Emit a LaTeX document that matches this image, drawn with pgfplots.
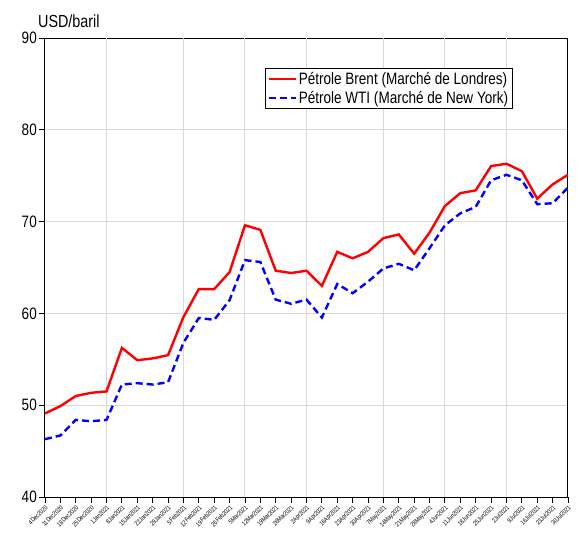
\documentclass[border=0pt]{standalone}
\usepackage{pgfplots}
\pgfplotsset{compat=1.18}
\usepackage{fontspec}
\setmainfont{Liberation Sans}[FakeStretch=0.82]
\pgfplotstableread{
x y
0 49.1
1 49.9
2 51.0
3 51.35
4 51.5
5 56.25
6 54.9
7 55.1
8 55.45
9 59.6
10 62.65
11 62.65
12 64.5
13 69.6
14 69.1
15 64.65
16 64.4
17 64.65
18 63.0
19 66.7
20 66.0
21 66.7
22 68.2
23 68.6
24 66.5
25 68.8
26 71.7
27 73.1
28 73.4
29 76.05
30 76.3
31 75.5
32 72.5
33 74.05
34 75.1
}\brent
\pgfplotstableread{
x y
0 46.3
1 46.7
2 48.4
3 48.25
4 48.4
5 52.25
6 52.4
7 52.25
8 52.5
9 56.8
10 59.5
11 59.3
12 61.45
13 65.8
14 65.6
15 61.5
16 61.05
17 61.5
18 59.55
19 63.2
20 62.2
21 63.45
22 64.9
23 65.4
24 64.7
25 67.1
26 69.6
27 70.9
28 71.6
29 74.5
30 75.1
31 74.5
32 71.9
33 72.0
34 73.7
}\wti
\begin{document}
\begin{tikzpicture}
\begin{axis}[
  at={(0pt,0pt)}, anchor=south west,
  scale only axis, width=523pt, height=459pt,
  xmin=0, xmax=34, ymin=40, ymax=90,
  xtick={0,...,34},
  xticklabels={4Dec2020,11Dec2020,18Dec2020,25Dec2020,1Jan2021,8Jan2021,15Jan2021,22Jan2021,29Jan2021,5Feb2021,12Feb2021,19Feb2021,26Feb2021,5Mar2021,12Mar2021,19Mar2021,26Mar2021,2Apr2021,9Apr2021,16Apr2021,23Apr2021,30Apr2021,7May2021,14May2021,21May2021,28May2021,4Jun2021,11Jun2021,18Jun2021,25Jun2021,2Jul2021,9Jul2021,16Jul2021,23Jul2021,30Jul2021},
  x tick label style={rotate=45, anchor=north east, font=\fontsize{6.5}{7.5}\selectfont, inner sep=1pt},
  ytick={40,50,...,90},
  y tick label style={font=\fontsize{16.5}{18}\selectfont, inner sep=2pt},
  /pgf/number format/assume math mode=true,
  tick align=outside, xtick pos=bottom, ytick pos=left,
  major tick length=6pt,
  tick style={black, line width=0.9pt},
  axis line style={black, line width=1pt},
  ymajorgrids, major grid style={black!15, line width=1pt},
  extra x ticks={4,9,13,17,22,26,30},
  extra x tick labels={},
  extra x tick style={xmajorgrids=true, major tick length=0pt},
  legend cell align=left,
  legend style={at={(rel axis cs:0.4207,0.9346)}, anchor=north west,
    draw=black, line width=0.8pt, font=\fontsize{16.5}{18}\selectfont,
    inner sep=2pt, row sep=1pt},
  legend image code/.code={\draw[#1] (0pt,0pt) -- (27pt,0pt);},
]
\addplot[red, line width=2.4pt] table[x=x,y=y]{\brent};
\addlegendentry{Pétrole Brent (Marché de Londres)}
\addplot[blue, line width=2.4pt, dash pattern=on 7pt off 4pt] table[x=x,y=y]{\wti};
\addlegendentry{Pétrole WTI (Marché de New York)}
\end{axis}
\node[anchor=base west, font=\fontsize{17.5}{19}\selectfont, inner sep=0pt] at (-7pt,469pt) {USD/baril};
\pgfresetboundingbox
\path[use as bounding box] (-45pt,-45pt) rectangle (534pt,497pt);
\end{tikzpicture}
\end{document}
